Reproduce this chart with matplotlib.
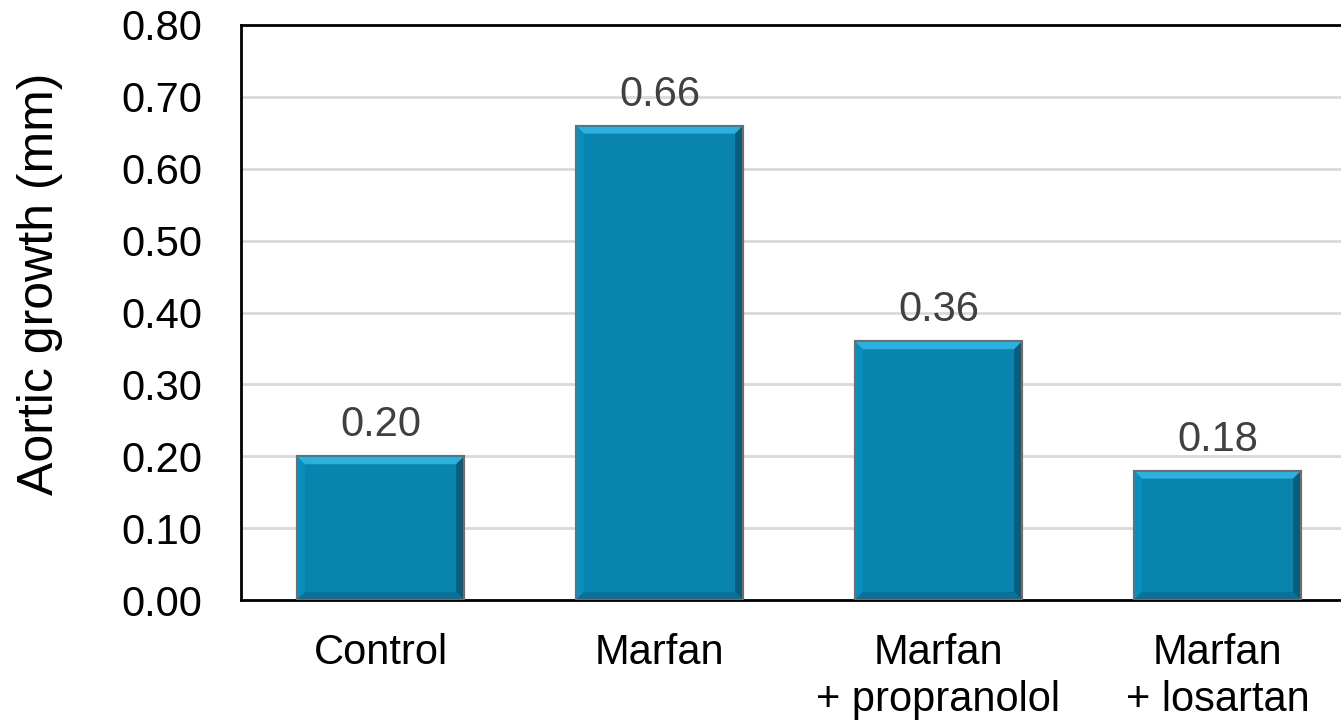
import matplotlib.pyplot as plt
from matplotlib.patches import Polygon
import numpy as np

plt.rcParams['font.family'] = ['Liberation Sans', 'DejaVu Sans']

groups = ['Control', 'Marfan', 'Marfan\n+ propranolol', 'Marfan\n+ losartan']
growth = [0.20, 0.66, 0.36, 0.18]
yticks = [0.0, 0.1, 0.2, 0.3, 0.4, 0.5, 0.6, 0.7, 0.8]

fig = plt.figure(figsize=(13.41, 7.21), dpi=100)
ax = fig.add_axes([241 / 1341, 1 - 600 / 721, 1116 / 1341, 575 / 721])

x = np.arange(len(groups))
width = 0.6
face = '#0884AF'
bars = ax.bar(x, growth, width, color=face, edgecolor='#6E6E6E',
              linewidth=1.5, zorder=3)

ax.set_xlim(-0.5, len(groups) - 0.5)
ax.set_ylim(0, 0.8)

# bevel size: ~8 px converted into data units
bw = 8 * (len(groups)) / 1116
bh = 8 * 0.8 / 575
for b in bars:
    x0, x1 = b.get_x(), b.get_x() + b.get_width()
    y1 = b.get_height()
    top = [(x0, y1), (x1, y1), (x1 - bw, y1 - bh), (x0 + bw, y1 - bh)]
    right = [(x1, y1), (x1, 0), (x1 - bw, bh), (x1 - bw, y1 - bh)]
    left = [(x0, y1), (x0 + bw, y1 - bh), (x0 + bw, bh), (x0, 0)]
    bottom = [(x0, 0), (x0 + bw, bh), (x1 - bw, bh), (x1, 0)]
    for pts, c in [(top, '#2DB0DE'), (right, '#055E7E'),
                   (left, '#0A8FBD'), (bottom, '#06729A')]:
        ax.add_patch(Polygon(pts, closed=True, facecolor=c,
                             edgecolor='none', zorder=3.5))
    ax.add_patch(Polygon([(x0, 0), (x0, y1), (x1, y1), (x1, 0)],
                         closed=True, fill=False, edgecolor='#6E6E6E',
                         linewidth=1.5, zorder=4))
    ax.text(b.get_x() + b.get_width() / 2, y1 + 0.015, f'{y1:.2f}',
            ha='center', va='bottom', fontsize=30, color='#404040')

ax.set_yticks(yticks)
ax.set_yticklabels([f'{v:.2f}' for v in yticks])
ax.set_xticks(x)
ax.set_xticklabels(groups, linespacing=1.22)
ax.tick_params(axis='both', length=0, labelsize=30, colors='black')
ax.tick_params(axis='y', pad=28)
ax.tick_params(axis='x', pad=24)
ax.yaxis.grid(True, color='#D9D9D9', linewidth=2, zorder=0)
ax.set_axisbelow(True)

for s in ['top', 'left', 'bottom']:
    ax.spines[s].set_color('black')
    ax.spines[s].set_linewidth(2)
ax.spines['right'].set_visible(False)

ax.set_ylabel('Aortic growth (mm)', fontsize=36, va='center')
ax.yaxis.set_label_coords(-0.180, 0.55)

fig.savefig('out.png', dpi=100)
